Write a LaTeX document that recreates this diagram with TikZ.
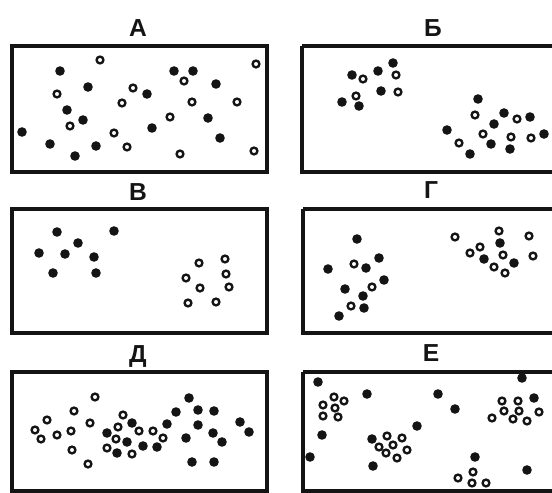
\documentclass[tikz,border=0pt]{standalone}
\usepackage{fontspec}
\setmainfont{Liberation Sans}
\usepackage{xcolor}
\usepackage{tikz}
\definecolor{tinta}{RGB}{20,20,20}
\tikzset{
  marco/.style={draw=tinta, line width=2pt},
  lleno/.style={fill=tinta},
  hueco/.style={draw=tinta, fill=white, line width=1.35pt},
  letra/.style={font=\fontsize{14}{14}\selectfont\bfseries, text=tinta, inner sep=0pt}
}

\begin{document}
\begin{tikzpicture}[x=0.02cm, y=-0.02cm,
  rl/.store in=\rl, rl=4.8,
  rh/.store in=\rh, rh=3.4]
  \useasboundingbox (0,0) rectangle (552,493);
  % Panel A: mezcla al azar
  \node (titA) [letra] at (138,28) {А};
  \draw [marco] (12,46) rectangle (267,172);
  \foreach \p in {(60,71),(174,71),(193,71),(216,84),(88,87),(147,94),(67,110),(83,120),
    (208,118),(22,132),(152,128),(220,138),(50,144),(96,146),(75,156)}
    \fill [lleno] \p circle (\rl);
  \foreach \p in {(100,60),(256,64),(184,81),(133,88),(57,94),(122,103),(192,102),(237,102),
    (170,117),(70,126),(114,133),(127,147),(180,154),(254,151)}
    \draw [hueco] \p circle (\rh);
  % Panel Б: dos grupos mezclados
  \node (titB) [letra] at (433,28) {Б};
  \draw [marco] (302,46) -- (560,46) (302,46) -- (302,172) -- (560,172);
  \foreach \p in {(393,63),(352,75),(378,71),(381,91),(342,102),(359,106),(478,99),(504,113),
    (494,124),(530,117),(447,130),(544,134),(491,144),(510,149),(470,154)}
    \fill [lleno] \p circle (\rl);
  \foreach \p in {(363,79),(396,75),(398,92),(356,96),(475,115),(517,119),(483,134),(511,137),
    (531,138),(459,143)}
    \draw [hueco] \p circle (\rh);
  % Panel В: separados
  \node (titV) [letra] at (138,192) {В};
  \draw [marco] (12,209) rectangle (267,333);
  \foreach \p in {(57,232),(114,231),(78,243),(39,253),(65,254),(94,257),(53,273),(96,273)}
    \fill [lleno] \p circle (\rl);
  \foreach \p in {(199,263),(225,259),(186,278),(226,274),(200,288),(229,287),(188,303),(216,302)}
    \draw [hueco] \p circle (\rh);
  % Panel Г
  \node (titG) [letra] at (431,190) {Г};
  \draw [marco] (303,209) -- (560,209) (303,209) -- (303,333) -- (560,333);
  \foreach \p in {(357,239),(379,258),(328,269),(366,268),(384,280),(345,289),(363,296),
    (364,308),(339,316),(500,243),(484,259),(514,263)}
    \fill [lleno] \p circle (\rl);
  \foreach \p in {(354,264),(372,287),(351,306),(455,237),(499,231),(529,236),(480,247),
    (470,253),(503,255),(533,256),(494,267),(505,273)}
    \draw [hueco] \p circle (\rh);
  % Panel Д
  \node (titD) [letra] at (138,356) {Д};
  \draw [marco] (12,372) rectangle (267,491);
  \foreach \p in {(132,423),(107,433),(127,442),(117,453),(143,446),(157,447),(167,424),
    (189,398),(176,412),(198,410),(214,411),(198,425),(240,422),(249,432),(213,433),
    (186,438),(222,442),(192,462),(214,462)}
    \fill [lleno] \p circle (\rl);
  \foreach \p in {(95,397),(74,411),(47,420),(90,423),(35,430),(41,439),(57,435),(71,431),
    (72,450),(88,464),(123,415),(118,427),(116,439),(107,448),(132,454),(139,431),
    (153,431),(163,438)}
    \draw [hueco] \p circle (\rh);
  % Panel Е
  \node (titE) [letra] at (431,353) {Е};
  \draw [marco] (303,372) -- (560,372) (303,372) -- (303,491) -- (560,491);
  \foreach \p in {(318,382),(367,394),(438,394),(455,409),(522,378),(534,398),(417,426),
    (322,435),(372,439),(310,457),(373,466),(475,457),(527,470)}
    \fill [lleno] \p circle (\rl);
  \foreach \p in {(334,397),(344,401),(323,405),(335,408),(323,416),(338,417),
    (387,436),(402,438),(379,447),(393,445),(407,450),(386,453),(397,458),
    (502,401),(518,401),(519,411),(504,411),(492,418),(513,419),(527,421),(539,412),
    (473,472),(458,478),(472,483),(486,483)}
    \draw [hueco] \p circle (\rh);
\end{tikzpicture}
\end{document}
